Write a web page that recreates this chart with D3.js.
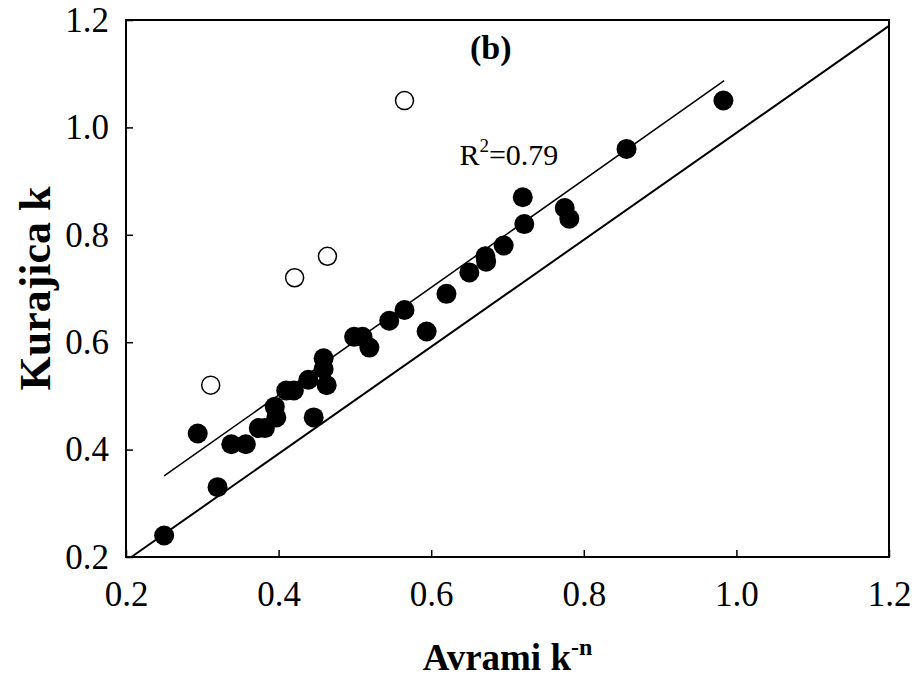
<!DOCTYPE html>
<html>
<head>
<meta charset="utf-8">
<script src="https://cdn.jsdelivr.net/npm/d3@7"></script>
<style>
  body { margin: 0; background: #fff; }
  text { font-family: "Liberation Serif", "Times New Roman", serif; }
</style>
</head>
<body>
<svg id="chart" width="915" height="679"></svg>
<script>
// filled points: Avrami k^-n vs Kurajica k
var avramiFilled = [0.25, 0.32, 0.294, 0.338, 0.357, 0.374, 0.382, 0.397, 0.395, 0.41, 0.42,
  0.446, 0.439, 0.463, 0.459, 0.459, 0.499, 0.51, 0.519, 0.545, 0.565, 0.594, 0.62,
  0.65, 0.671, 0.672, 0.695, 0.72, 0.722, 0.775, 0.781, 0.856, 0.983];
var kurajicaFilled = [0.24, 0.33, 0.43, 0.41, 0.41, 0.44, 0.44, 0.46, 0.48, 0.51, 0.51,
  0.46, 0.53, 0.52, 0.57, 0.55, 0.61, 0.61, 0.59, 0.64, 0.66, 0.62, 0.69,
  0.73, 0.76, 0.75, 0.78, 0.87, 0.82, 0.85, 0.83, 0.96, 1.05];
// open points (outliers)
var avramiOpen = [0.311, 0.421, 0.464, 0.565];
var kurajicaOpen = [0.52, 0.72, 0.76, 1.05];
// fitted line and 1:1 line end points
var fitLine = [[0.25, 0.351], [0.984, 1.087]];
var refLine = [[0.207, 0.2], [1.2, 1.189]];
var xTicks = [0.2, 0.4, 0.6, 0.8, 1.0, 1.2];
var yTicks = [0.2, 0.4, 0.6, 0.8, 1.0, 1.2];

var svg = d3.select("#chart"),
  margin = { top: 20, right: 26, bottom: 122, left: 126 },
  width = +svg.attr("width") - margin.left - margin.right,
  height = +svg.attr("height") - margin.top - margin.bottom,
  g = svg.append("g")
    .attr("transform", "translate(" + margin.left + "," + margin.top + ")");

var x = d3.scaleLinear().domain([0.2, 1.2]).range([0, width]);
var y = d3.scaleLinear().domain([0.2, 1.2]).range([height, 0]);

// frame
g.append("rect")
  .attr("width", width)
  .attr("height", height)
  .attr("fill", "none")
  .attr("stroke", "#000")
  .attr("stroke-width", 2);

// inward ticks
g.append("g")
  .attr("transform", "translate(0," + height + ")")
  .call(d3.axisBottom(x).tickValues(xTicks).tickSizeInner(-7).tickSizeOuter(0)
    .tickPadding(24).tickFormat(d3.format(".1f")))
  .call(function(a) {
    a.select(".domain").remove();
    a.selectAll("line").attr("stroke-width", 1.5);
    a.selectAll("text").attr("font-size", 35).attr("fill", "#000");
  });

g.append("g")
  .call(d3.axisLeft(y).tickValues(yTicks).tickSizeInner(-7).tickSizeOuter(0)
    .tickPadding(17).tickFormat(d3.format(".1f")))
  .call(function(a) {
    a.select(".domain").remove();
    a.selectAll("line").attr("stroke-width", 1.5);
    a.selectAll("text").attr("font-size", 35).attr("fill", "#000");
  });

var line = d3.line()
  .x(function(d) { return x(d[0]); })
  .y(function(d) { return y(d[1]); });

g.append("path")
  .datum(refLine)
  .attr("fill", "none")
  .attr("stroke", "#000")
  .attr("stroke-width", 2)
  .attr("d", line);

g.append("path")
  .datum(fitLine)
  .attr("fill", "none")
  .attr("stroke", "#000")
  .attr("stroke-width", 1.5)
  .attr("d", line);

g.selectAll(".filled")
  .data(avramiFilled)
  .enter()
  .append("circle")
  .attr("r", 10)
  .attr("cx", function(d) { return x(d); })
  .attr("cy", function(d, i) { return y(kurajicaFilled[i]); })
  .attr("fill", "#000");

g.selectAll(".open")
  .data(avramiOpen)
  .enter()
  .append("circle")
  .attr("r", 9)
  .attr("cx", function(d) { return x(d); })
  .attr("cy", function(d, i) { return y(kurajicaOpen[i]); })
  .attr("fill", "#fff")
  .attr("stroke", "#000")
  .attr("stroke-width", 1.5);

// annotations
g.append("text")
  .attr("x", x(0.678))
  .attr("y", 39)
  .attr("text-anchor", "middle")
  .attr("font-size", 34)
  .attr("font-weight", "bold")
  .text("(b)");

var r2 = g.append("text")
  .attr("x", x(0.637))
  .attr("y", y(0.93))
  .attr("font-size", 30);
r2.append("tspan").text("R");
r2.append("tspan").attr("font-size", 19).attr("dy", -13).text("2");
r2.append("tspan").attr("dy", 13).text("=0.79");

// axis titles
var xt = svg.append("text")
  .attr("x", margin.left + width / 2)
  .attr("y", 670)
  .attr("text-anchor", "middle")
  .attr("font-size", 37)
  .attr("font-weight", "bold");
xt.append("tspan").text("Avrami k");
xt.append("tspan").attr("font-size", 24).attr("dy", -15).text("-n");

svg.append("text")
  .attr("transform", "rotate(-90)")
  .attr("x", -(margin.top + height / 2))
  .attr("y", 50)
  .attr("text-anchor", "middle")
  .attr("font-size", 44)
  .attr("font-weight", "bold")
  .text("Kurajica k");
</script>
</body>
</html>
